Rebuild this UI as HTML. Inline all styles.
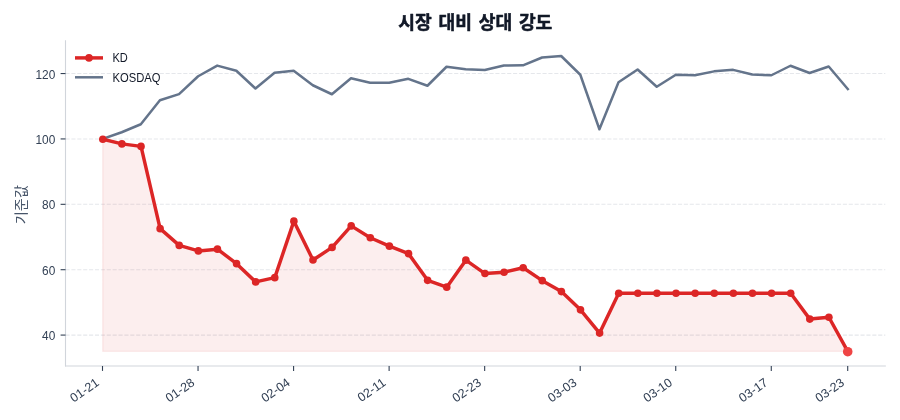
<!DOCTYPE html>
<html lang="ko">
<head>
<meta charset="utf-8">
<title>시장 대비 상대 강도</title>
<style>
html,body{margin:0;padding:0;background:#ffffff;}
body{width:900px;height:420px;overflow:hidden;}
svg{display:block;will-change:transform;}
text{font-family:"Liberation Sans", "Noto Sans CJK KR", sans-serif;}
.tick{font-size:12.5px;fill:#334155;}
.leg{font-size:12.3px;fill:#111827;}
.title{font-size:18.2px;font-weight:700;word-spacing:1.7px;fill:#111827;stroke:#111827;stroke-width:0.5px;stroke-linejoin:round;}
.ylabel{font-size:14.2px;fill:#475569;}
</style>
</head>
<body>
<svg width="900" height="420" viewBox="0 0 900 420">
<rect x="0" y="0" width="900" height="420" fill="#ffffff"/>
<g stroke="#e5e7eb" stroke-width="1.1" stroke-dasharray="4.111 1.778" fill="none">
<line x1="65.5" y1="73.55" x2="885.3" y2="73.55"/>
<line x1="65.5" y1="138.93" x2="885.3" y2="138.93"/>
<line x1="65.5" y1="204.32" x2="885.3" y2="204.32"/>
<line x1="65.5" y1="269.7" x2="885.3" y2="269.7"/>
<line x1="65.5" y1="335.08" x2="885.3" y2="335.08"/>
</g>
<polygon fill="#dc2626" fill-opacity="0.08" stroke="#dc2626" stroke-opacity="0.08" stroke-width="1.39" stroke-linejoin="miter" points="102.80,139.30 121.91,143.90 141.02,146.40 160.12,228.65 179.23,245.40 198.34,250.90 217.45,249.15 236.56,263.65 255.66,281.90 274.77,277.65 293.88,221.15 312.99,260.00 332.10,247.40 351.20,225.90 370.31,237.75 389.42,246.15 408.53,253.65 427.64,280.35 446.74,287.15 465.85,260.15 484.96,273.55 504.07,272.20 523.18,267.70 542.28,280.65 561.39,291.60 580.50,309.85 599.61,333.10 618.72,293.30 637.82,293.30 656.93,293.30 676.04,293.30 695.15,293.30 714.26,293.30 733.36,293.30 752.47,293.30 771.58,293.30 790.69,293.30 809.80,319.10 828.90,317.25 848.01,351.90 848.01,351.33 102.80,351.33"/>
<polyline fill="none" stroke="#64748b" stroke-width="2.5" stroke-linejoin="round" stroke-linecap="square" points="102.60,139.00 121.71,132.25 140.82,124.25 159.92,100.25 179.03,94.15 198.14,76.25 217.25,65.60 236.36,70.75 255.46,88.50 274.57,72.75 293.68,70.75 312.79,85.25 331.90,94.25 351.00,78.30 370.11,82.75 389.22,82.75 408.33,78.80 427.44,85.75 446.54,66.75 465.65,69.25 484.76,70.00 503.87,65.50 522.98,65.35 542.08,57.50 561.19,56.00 580.30,74.75 599.41,129.25 618.52,82.25 637.62,69.50 656.73,86.75 675.84,74.75 694.95,75.25 714.06,71.35 733.16,69.85 752.27,74.50 771.38,75.25 790.49,65.75 809.60,73.00 828.70,66.50 847.81,89.00"/>
<polyline fill="none" stroke="#dc2626" stroke-width="3.47" stroke-linejoin="round" stroke-linecap="square" points="102.80,139.30 121.91,143.90 141.02,146.40 160.12,228.65 179.23,245.40 198.34,250.90 217.45,249.15 236.56,263.65 255.66,281.90 274.77,277.65 293.88,221.15 312.99,260.00 332.10,247.40 351.20,225.90 370.31,237.75 389.42,246.15 408.53,253.65 427.64,280.35 446.74,287.15 465.85,260.15 484.96,273.55 504.07,272.20 523.18,267.70 542.28,280.65 561.39,291.60 580.50,309.85 599.61,333.10 618.72,293.30 637.82,293.30 656.93,293.30 676.04,293.30 695.15,293.30 714.26,293.30 733.36,293.30 752.47,293.30 771.58,293.30 790.69,293.30 809.80,319.10 828.90,317.25 848.01,351.90"/>
<g fill="#dc2626">
<circle cx="102.80" cy="139.30" r="3.8"/>
<circle cx="121.91" cy="143.90" r="3.8"/>
<circle cx="141.02" cy="146.40" r="3.8"/>
<circle cx="160.12" cy="228.65" r="3.8"/>
<circle cx="179.23" cy="245.40" r="3.8"/>
<circle cx="198.34" cy="250.90" r="3.8"/>
<circle cx="217.45" cy="249.15" r="3.8"/>
<circle cx="236.56" cy="263.65" r="3.8"/>
<circle cx="255.66" cy="281.90" r="3.8"/>
<circle cx="274.77" cy="277.65" r="3.8"/>
<circle cx="293.88" cy="221.15" r="3.8"/>
<circle cx="312.99" cy="260.00" r="3.8"/>
<circle cx="332.10" cy="247.40" r="3.8"/>
<circle cx="351.20" cy="225.90" r="3.8"/>
<circle cx="370.31" cy="237.75" r="3.8"/>
<circle cx="389.42" cy="246.15" r="3.8"/>
<circle cx="408.53" cy="253.65" r="3.8"/>
<circle cx="427.64" cy="280.35" r="3.8"/>
<circle cx="446.74" cy="287.15" r="3.8"/>
<circle cx="465.85" cy="260.15" r="3.8"/>
<circle cx="484.96" cy="273.55" r="3.8"/>
<circle cx="504.07" cy="272.20" r="3.8"/>
<circle cx="523.18" cy="267.70" r="3.8"/>
<circle cx="542.28" cy="280.65" r="3.8"/>
<circle cx="561.39" cy="291.60" r="3.8"/>
<circle cx="580.50" cy="309.85" r="3.8"/>
<circle cx="599.61" cy="333.10" r="3.8"/>
<circle cx="618.72" cy="293.30" r="3.8"/>
<circle cx="637.82" cy="293.30" r="3.8"/>
<circle cx="656.93" cy="293.30" r="3.8"/>
<circle cx="676.04" cy="293.30" r="3.8"/>
<circle cx="695.15" cy="293.30" r="3.8"/>
<circle cx="714.26" cy="293.30" r="3.8"/>
<circle cx="733.36" cy="293.30" r="3.8"/>
<circle cx="752.47" cy="293.30" r="3.8"/>
<circle cx="771.58" cy="293.30" r="3.8"/>
<circle cx="790.69" cy="293.30" r="3.8"/>
<circle cx="809.80" cy="319.10" r="3.8"/>
<circle cx="828.90" cy="317.25" r="3.8"/>
<circle cx="848.01" cy="351.90" r="3.8"/>
</g>
<circle cx="847.71" cy="351.7" r="4.8" fill="#ef4444"/>
<g stroke="#d1d5db" stroke-width="1.1" fill="none" stroke-linecap="square">
<line x1="65.5" y1="40.7" x2="65.5" y2="366.0"/>
<line x1="65.5" y1="366.0" x2="885.3" y2="366.0"/>
</g>
<g stroke="#334155" stroke-width="1.1" fill="none">
<line x1="60.60" y1="73.55" x2="65.5" y2="73.55"/>
<line x1="60.60" y1="138.93" x2="65.5" y2="138.93"/>
<line x1="60.60" y1="204.32" x2="65.5" y2="204.32"/>
<line x1="60.60" y1="269.7" x2="65.5" y2="269.7"/>
<line x1="60.60" y1="335.08" x2="65.5" y2="335.08"/>
<line x1="102.50" y1="366.0" x2="102.50" y2="370.90"/>
<line x1="198.04" y1="366.0" x2="198.04" y2="370.90"/>
<line x1="293.58" y1="366.0" x2="293.58" y2="370.90"/>
<line x1="389.12" y1="366.0" x2="389.12" y2="370.90"/>
<line x1="484.66" y1="366.0" x2="484.66" y2="370.90"/>
<line x1="580.20" y1="366.0" x2="580.20" y2="370.90"/>
<line x1="675.74" y1="366.0" x2="675.74" y2="370.90"/>
<line x1="771.28" y1="366.0" x2="771.28" y2="370.90"/>
<line x1="847.71" y1="366.0" x2="847.71" y2="370.90"/>
</g>
<text class="tick" text-anchor="end" transform="translate(55.3,78.55) scale(0.95,1)">120</text>
<text class="tick" text-anchor="end" transform="translate(55.3,143.93) scale(0.95,1)">100</text>
<text class="tick" text-anchor="end" transform="translate(55.3,209.32) scale(0.95,1)">80</text>
<text class="tick" text-anchor="end" transform="translate(55.3,274.70) scale(0.95,1)">60</text>
<text class="tick" text-anchor="end" transform="translate(55.3,340.08) scale(0.95,1)">40</text>
<text class="tick" text-anchor="end" transform="translate(100.00,384.50) rotate(-35)">01-21</text>
<text class="tick" text-anchor="end" transform="translate(195.54,384.50) rotate(-35)">01-28</text>
<text class="tick" text-anchor="end" transform="translate(291.08,384.50) rotate(-35)">02-04</text>
<text class="tick" text-anchor="end" transform="translate(386.62,384.50) rotate(-35)">02-11</text>
<text class="tick" text-anchor="end" transform="translate(482.16,384.50) rotate(-35)">02-23</text>
<text class="tick" text-anchor="end" transform="translate(577.70,384.50) rotate(-35)">03-03</text>
<text class="tick" text-anchor="end" transform="translate(673.24,384.50) rotate(-35)">03-10</text>
<text class="tick" text-anchor="end" transform="translate(768.78,384.50) rotate(-35)">03-17</text>
<text class="tick" text-anchor="end" transform="translate(845.21,384.50) rotate(-35)">03-23</text>
<text class="ylabel" text-anchor="middle" transform="translate(26,204.6) rotate(-90)">기준값</text>
<text class="title" text-anchor="middle" x="475.3" y="29.2">시장 대비 상대 강도</text>
<line x1="75" y1="57.9" x2="103" y2="57.9" stroke="#dc2626" stroke-width="3.47"/>
<circle cx="89" cy="57.9" r="3.8" fill="#dc2626"/>
<line x1="75" y1="77.3" x2="103" y2="77.3" stroke="#64748b" stroke-width="2.5"/>
<text class="leg" transform="translate(112.5,62.4) scale(0.9,1)">KD</text>
<text class="leg" transform="translate(112.5,81.6) scale(0.912,1)">KOSDAQ</text>
</svg>
</body>
</html>
